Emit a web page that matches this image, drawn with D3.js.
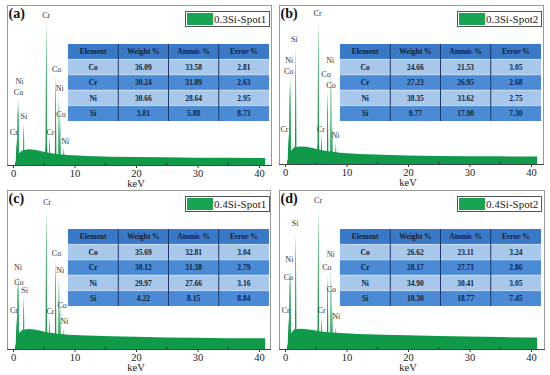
<!DOCTYPE html>
<html>
<head>
<meta charset="utf-8">
<script src="https://cdn.jsdelivr.net/npm/d3@7"></script>
<style>
  body { margin: 0; background: #fff; }
  svg, svg text { font-family: "Liberation Serif", "Times New Roman", serif !important; }
</style>
</head>
<body>
<div id="chart"></div>
<script>
// ---- data ----
const panelTags = ["(a)", "(b)", "(c)", "(d)"];
const spotNames = ["0.3Si-Spot1", "0.3Si-Spot2", "0.4Si-Spot1", "0.4Si-Spot2"];

const tableHead = ["Element", "Weight %", "Atomic %", "Error %"];
const elements = ["Co", "Cr", "Ni", "Si"];
const weightPct = [
  ["36.09", "30.24", "30.66", "3.81"],
  ["24.66", "27.23", "38.35", "9.77"],
  ["35.69", "30.12", "29.97", "4.22"],
  ["26.62", "28.17", "34.90", "10.30"]
];
const atomicPct = [
  ["33.58", "31.89", "28.64", "5.88"],
  ["21.53", "26.95", "33.62", "17.90"],
  ["32.81", "31.38", "27.66", "8.15"],
  ["23.11", "27.71", "30.41", "18.77"]
];
const errorPct = [
  ["2.81", "2.63", "2.95", "8.73"],
  ["3.05", "2.68", "2.75", "7.30"],
  ["3.04", "2.79", "3.16", "8.84"],
  ["3.24", "2.86", "3.05", "7.45"]
];

const keVTicks = [0, 10, 20, 30, 40];
const keVMinor = [5, 15, 25, 35];

// background (bremsstrahlung) level, % of plot height
const continuumKeV = [0.3, 0.6, 1.0, 1.5, 2.5, 3.5, 4.5, 5.5, 7, 9, 12, 16, 20, 25, 30, 35, 40, 41];
const continuum = [
  [0, 4, 7.5, 9, 9.8, 9.6, 8.8, 7.8, 6.8, 6.2, 5.6, 5.2, 5.0, 4.8, 4.6, 4.5, 4.4, 4.4],
  [0, 5, 8.5, 10.5, 11, 10.8, 10, 9, 8, 7, 6.3, 5.8, 5.4, 5.1, 4.9, 4.8, 4.7, 4.7],
  [0, 6, 10, 12, 12.6, 12.2, 11.5, 10.5, 9.8, 9, 8.5, 8, 7.7, 7.3, 7.0, 6.8, 6.7, 6.7],
  [0, 6, 10, 12.5, 12.8, 12.5, 12, 11.2, 10.5, 10, 9.5, 9, 8.6, 8.2, 7.8, 7.5, 7.3, 7.3]
];

// characteristic lines: Cr L, Co L, Ni L, Si Ka, Cr Ka, Cr Kb, Co Ka, Ni Ka, Co Kb, Ni Kb
const peakKeV = [0.57, 0.78, 0.85, 1.74, 5.41, 5.95, 6.93, 7.47, 7.65, 8.26];
const peakHeight = [
  [16, 38, 41.5, 26, 89.7, 17.4, 55.6, 43.2, 29, 11.1],
  [19.5, 50, 55, 73, 90.8, 18, 46, 58.9, 25, 13.2],
  [20, 44, 47, 33, 87.6, 19.5, 56.2, 44.7, 27, 13],
  [19.5, 48, 51, 73, 87.6, 20, 46, 49.9, 27, 14]
];

// peak labels: [text, keV, level %]
const peakLabels = [
  [["Cr", 5.4, 93.9], ["Co", 7.1, 59.7], ["Ni", 7.6, 47.8], ["Co", 7.8, 32], ["Ni", 8.5, 14.7],
   ["Cr", 6.1, 20.5], ["Ni", 1.05, 52.6], ["Co", 0.9, 45.3], ["Si", 1.76, 30.4], ["Cr", 0.13, 20.5]],
  [["Cr", 5.3, 95], ["Si", 1.5, 78.2], ["Ni", 0.7, 65.2], ["Co", 0.6, 58.3], ["Cr", -0.1, 21.6],
   ["Ni", 7.37, 65], ["Co", 6.67, 56.2], ["Co", 7.48, 49.3], ["Cr", 5.85, 21.6], ["Ni", 8.2, 18]],
  [["Cr", 5.57, 92.5], ["Co", 7.08, 60.4], ["Ni", 7.68, 49.3], ["Ni", 0.81, 51.4], ["Co", 0.97, 42.1],
   ["Si", 1.89, 36.9], ["Cr", 0.16, 24.1], ["Cr", 6.1, 23.7], ["Co", 8.0, 27.5], ["Ni", 8.38, 17.4]],
  [["Cr", 5.38, 93.5], ["Si", 1.63, 79.2], ["Ni", 0.71, 56.2], ["Co", 0.54, 45.1], ["Cr", 0.11, 24.1],
   ["Ni", 7.45, 59.7], ["Co", 6.8, 51.4], ["Co", 7.55, 37.9], ["Cr", 5.98, 24.1], ["Ni", 8.32, 20.5]]
];

// ---- layout ----
var W = 550, H = 375;
var frames = [
  {x: 7,   y: 5,   w: 264, h: 160},
  {x: 279, y: 5,   w: 264, h: 159},
  {x: 7,   y: 190, w: 263, h: 159},
  {x: 279, y: 190, w: 265, h: 159}
];
var green = "#11994a";
var serif = "'Liberation Serif', 'Times New Roman', serif";
var rowFill = ["#3a79c8", "#a7c7eb", "#4b8bd6", "#a7c7eb", "#4b8bd6"];

var svg = d3.select("#chart").append("svg")
  .attr("width", W).attr("height", H)
  .style("font-family", serif);

// narrow peak profile (offset keV, fraction of height)
var peakShape = [[-0.3, 0], [-0.12, 0.15], [-0.05, 0.75], [0, 1], [0.05, 0.75], [0.12, 0.15], [0.3, 0]];

frames.forEach(function(f, i) {
  var g = svg.append("g");
  var bottom = f.y + f.h;

  var x = d3.scaleLinear().domain([0, 40]).range([f.x + 6, f.x + 252]);
  var y = d3.scaleLinear().domain([0, 100]).range([bottom, f.y]);

  // frame
  g.append("rect")
    .attr("x", f.x + 0.5).attr("y", f.y + 0.5)
    .attr("width", f.w).attr("height", f.h)
    .attr("fill", "none").attr("stroke", "#999");

  // continuum
  var bg = continuumKeV.map(function(k, j) { return [k, continuum[i][j]]; });
  var area = d3.area()
    .x(function(d) { return x(d[0]); })
    .y0(y(0))
    .y1(function(d) { return y(d[1]); });
  g.append("path").datum(bg).attr("d", area).attr("fill", green);

  // peaks
  var peaks = peakKeV.map(function(k, j) { return {e: k, h: peakHeight[i][j]}; });
  g.selectAll(".peak").data(peaks).enter().append("path")
    .attr("class", "peak")
    .attr("fill", green)
    .attr("d", function(p) {
      return area(peakShape.map(function(s) { return [p.e + s[0], p.h * s[1]]; }));
    });

  // peak labels
  g.selectAll(".plab").data(peakLabels[i]).enter().append("text")
    .attr("class", "plab")
    .attr("x", function(d) { return x(d[1]); })
    .attr("y", function(d) { return y(d[2]); })
    .attr("dy", "0.35em")
    .attr("text-anchor", "middle")
    .attr("font-size", "8px")
    .attr("fill", "#333")
    .text(function(d) { return d[0]; });

  // x axis
  var ax = g.append("g").attr("transform", "translate(0," + bottom + ")");
  ax.call(d3.axisBottom(x).tickValues(keVTicks).tickSize(3).tickPadding(2).tickFormat(d3.format("d")));
  ax.attr("font-family", null);
  ax.select(".domain").remove();
  ax.selectAll("text").style("font-family", serif)
    .attr("font-size", "10.5px").attr("fill", "#222");
  ax.selectAll("line").attr("stroke", "#333");
  g.selectAll(".minor").data(keVMinor).enter().append("line")
    .attr("class", "minor")
    .attr("x1", function(d) { return x(d); }).attr("x2", function(d) { return x(d); })
    .attr("y1", bottom).attr("y2", bottom - 2)
    .attr("stroke", "#333");
  g.append("line")
    .attr("x1", f.x).attr("x2", f.x + f.w + 1)
    .attr("y1", bottom + 0.5).attr("y2", bottom + 0.5)
    .attr("stroke", "#444");
  g.append("text")
    .attr("x", x(20)).attr("y", bottom + 22)
    .attr("text-anchor", "middle")
    .attr("font-size", "10.5px").attr("fill", "#222")
    .text("keV");

  // panel tag
  g.append("text")
    .attr("x", f.x + 1.5).attr("y", f.y + 13)
    .attr("font-size", "14px").attr("font-weight", "bold").attr("fill", "#111")
    .text(panelTags[i]);

  // legend
  var lg = g.append("g").attr("transform", "translate(" + (f.x + 178) + "," + (f.y + 6) + ")");
  lg.append("rect").attr("x", 0.5).attr("y", 0.5).attr("width", 84).attr("height", 15)
    .attr("fill", "#fff").attr("stroke", "#555");
  lg.append("rect").attr("x", 2).attr("y", 2).attr("width", 26).attr("height", 12)
    .attr("fill", "#17a453");
  lg.append("text").attr("x", 29).attr("y", 12)
    .attr("font-size", "11px").attr("fill", "#222")
    .text(spotNames[i]);

  // composition table
  var tx = f.x + 61, ty = f.y + 39, tw = 201, th = 77;
  var rows = [tableHead].concat(elements.map(function(el, j) {
    return [el, weightPct[i][j], atomicPct[i][j], errorPct[i][j]];
  }));
  var rowY = d3.scaleBand().domain(d3.range(rows.length)).range([ty, ty + th]);
  var colX = d3.scaleBand().domain(d3.range(4)).range([tx, tx + tw]);
  var tg = g.append("g");
  tg.selectAll(".row").data(rows).enter().append("rect")
    .attr("x", tx).attr("y", function(d, r) { return rowY(r); })
    .attr("width", tw).attr("height", rowY.bandwidth())
    .attr("fill", function(d, r) { return rowFill[r]; });
  tg.selectAll(".hline").data(d3.range(1, rows.length)).enter().append("line")
    .attr("x1", tx).attr("x2", tx + tw)
    .attr("y1", function(r) { return rowY(r); }).attr("y2", function(r) { return rowY(r); })
    .attr("stroke", "#e8f0fa").attr("stroke-width", 0.6);
  tg.selectAll(".vline").data([1, 2, 3]).enter().append("line")
    .attr("x1", function(c) { return colX(c); }).attr("x2", function(c) { return colX(c); })
    .attr("y1", ty).attr("y2", ty + th)
    .attr("stroke", "#1d3866").attr("stroke-width", 1);
  rows.forEach(function(row, r) {
    tg.selectAll(".c" + r).data(row).enter().append("text")
      .attr("x", function(d, c) { return colX(c) + colX.bandwidth() / 2; })
      .attr("y", rowY(r) + rowY.bandwidth() / 2)
      .attr("dy", "0.35em")
      .attr("text-anchor", "middle")
      .attr("font-size", "7.5px").attr("font-weight", "bold").attr("fill", "#14203a")
      .text(function(d) { return d; });
  });
});
</script>
</body>
</html>
